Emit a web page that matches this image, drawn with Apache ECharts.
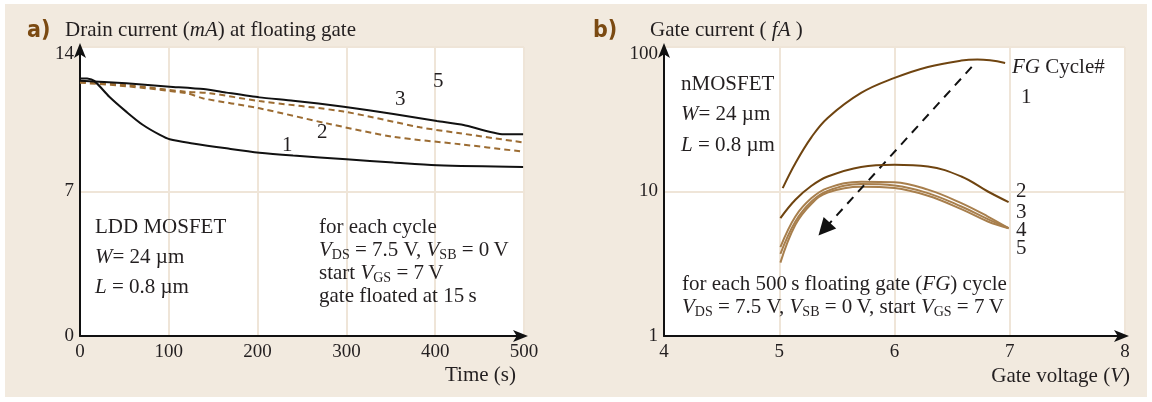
<!DOCTYPE html>
<html>
<head>
<meta charset="utf-8">
<script src="https://cdn.jsdelivr.net/npm/echarts@6/dist/echarts.min.js"></script>
<style>
html,body{margin:0;padding:0;background:#fff;}
#bg{position:absolute;left:5px;top:4px;width:1142px;height:393px;background:#f2eadf;}
#c{position:absolute;left:0;top:0;width:1152px;height:402px;}
</style>
</head>
<body>
<div id="bg"></div>
<div id="c"></div>
<script>
// ---- Panel a) drain current (mA) vs time (s) ----
const leftXTicks = [0, 100, 200, 300, 400, 500];
const leftYTicks = [0, 7, 14];
const cyc1T = [0, 8, 16, 33, 52, 71, 90, 101, 127, 165, 202, 240, 300, 353, 402, 499];
const cyc1I = [12.48, 12.47, 12.36, 11.59, 10.87, 10.22, 9.74, 9.53, 9.33, 9.09, 8.88, 8.74, 8.56, 8.40, 8.27, 8.19];
const cyc2T = [0, 52, 120, 139, 202, 278, 353, 428, 499];
const cyc2I = [12.27, 12.10, 11.76, 11.51, 11.03, 10.30, 9.65, 9.29, 8.93];
const cyc3T = [0, 52, 120, 146, 202, 297, 383, 428, 499];
const cyc3I = [12.32, 12.16, 11.83, 11.76, 11.38, 10.87, 10.11, 9.82, 9.38];
const cyc5T = [0, 52, 101, 139, 165, 202, 240, 297, 353, 402, 432, 477, 499];
const cyc5I = [12.37, 12.24, 12.08, 11.96, 11.79, 11.56, 11.40, 11.11, 10.75, 10.41, 10.22, 9.77, 9.77];

// ---- Panel b) gate current (fA) vs gate voltage (V) ----
const gate1V = [5.03, 5.14, 5.28, 5.42, 5.71, 6.0, 6.29, 6.58, 6.72, 6.96];
const gate1I = [10.56, 15.7, 23.8, 32.3, 48.1, 61.1, 72.8, 80.5, 81.8, 77.6];
const gateV = [5.01, 5.14, 5.28, 5.42, 5.71, 6.0, 6.29, 6.58, 6.81, 6.99];
const gate2I = [6.54, 8.76, 10.95, 12.7, 14.8, 15.3, 14.9, 12.7, 10.0, 8.44];
const gate3I = [4.12, 6.71, 9.0, 10.56, 11.7, 11.6, 10.3, 8.31, 6.71, 5.57];
const gate4I = [3.70, 6.2, 8.53, 10.1, 11.25, 11.0, 9.75, 7.87, 6.43, 5.57];
const gate5I = [3.22, 5.88, 8.22, 9.84, 10.8, 10.56, 9.34, 7.55, 6.2, 5.57];
const arrowFrom = [6.67, 72.8];
const arrowTo = [5.39, 5.49];

const zip = (a, b) => a.map((v, i) => [v, b[i]]);
const SERIF = '"Liberation Serif", "Times New Roman", serif';
const INK = '#231f20';
const GRIDC = '#efe5d8';
const DARKB = '#6f4410';
const LIGHTB = '#a87f4d';
const DASHB = '#9c6c32';
const FS = 21;

const rich = {
  i: {fontFamily: SERIF, fontSize: FS, fontStyle: 'italic', fill: INK},
  s: {fontFamily: SERIF, fontSize: 14, fill: INK, padding: [10, 0, 0, 0]}
};
function txt(x, y, text, align) {
  return {type: 'text', x: x, y: y, z: 50, silent: true,
    style: {text: text, fontFamily: SERIF, fontSize: FS, fill: INK,
      align: align || 'left', verticalAlign: 'middle', rich: rich}};
}
function tag(x, y, text) {
  return {type: 'text', x: x, y: y, z: 50, silent: true,
    style: {text: text, fontFamily: '"Liberation Sans Narrow", "DejaVu Sans Condensed", "Liberation Sans", sans-serif',
      fontWeight: 'bold', fontSize: 23, fill: '#7b4a12', align: 'left', verticalAlign: 'middle'}};
}

const axisLineStyle = {show: true, symbol: ['none', 'arrow'], symbolSize: [9, 15], symbolOffset: [0, 4],
  lineStyle: {color: '#111', width: 2}};
const lblStyle = {fontFamily: SERIF, fontSize: 19, color: INK};
const topRich = {t: {fontFamily: SERIF, fontSize: 19, color: INK, padding: [14, 0, 0, 0]}};

const chart = echarts.init(document.getElementById('c'), null, {renderer: 'canvas'});
chart.setOption({
  animation: false,
  backgroundColor: 'transparent',
  grid: [
    {left: 80, top: 47, width: 444, height: 289, show: true, backgroundColor: '#fff', borderWidth: 0},
    {left: 664, top: 47, width: 461, height: 289, show: true, backgroundColor: '#fff', borderWidth: 0}
  ],
  xAxis: [
    {gridIndex: 0, type: 'value', min: leftXTicks[0], max: leftXTicks[leftXTicks.length - 1], interval: 100,
      axisLine: axisLineStyle, axisTick: {show: false},
      axisLabel: Object.assign({margin: 7, showMaxLabel: true, showMinLabel: true}, lblStyle),
      splitLine: {show: true, lineStyle: {color: GRIDC, width: 2}}},
    {gridIndex: 1, type: 'value', min: 4, max: 8, interval: 1,
      axisLine: axisLineStyle, axisTick: {show: false},
      axisLabel: Object.assign({margin: 7}, lblStyle),
      splitLine: {show: true, lineStyle: {color: GRIDC, width: 2}}}
  ],
  yAxis: [
    {gridIndex: 0, type: 'value', min: leftYTicks[0], max: leftYTicks[leftYTicks.length - 1], interval: 7,
      axisLine: axisLineStyle, axisTick: {show: false},
      axisLabel: Object.assign({margin: 6, rich: topRich,
        formatter: v => v === 14 ? '{t|14}' : String(v)}, lblStyle),
      splitLine: {show: true, lineStyle: {color: GRIDC, width: 2}}},
    {gridIndex: 1, type: 'log', logBase: 10, min: 1, max: 100,
      axisLine: axisLineStyle, axisTick: {show: false},
      axisLabel: Object.assign({margin: 6, rich: topRich,
        formatter: v => v >= 99 ? '{t|100}' : String(Math.round(v))}, lblStyle),
      splitLine: {show: true, lineStyle: {color: GRIDC, width: 2}},
      minorSplitLine: {show: false}}
  ],
  series: [
    {type: 'line', xAxisIndex: 0, yAxisIndex: 0, data: zip(cyc1T, cyc1I), smooth: 0.3, showSymbol: false,
      lineStyle: {color: '#111', width: 2}, z: 5},
    {type: 'line', xAxisIndex: 0, yAxisIndex: 0, data: zip(cyc2T, cyc2I), smooth: 0.3, showSymbol: false,
      lineStyle: {color: DASHB, width: 2, type: [6, 4]}, z: 4},
    {type: 'line', xAxisIndex: 0, yAxisIndex: 0, data: zip(cyc3T, cyc3I), smooth: 0.3, showSymbol: false,
      lineStyle: {color: DASHB, width: 2, type: [6, 4]}, z: 4},
    {type: 'line', xAxisIndex: 0, yAxisIndex: 0, data: zip(cyc5T, cyc5I), smooth: 0.2, showSymbol: false,
      lineStyle: {color: '#111', width: 2}, z: 5},
    {type: 'line', xAxisIndex: 1, yAxisIndex: 1, data: zip(gate1V, gate1I), smooth: 0.4, showSymbol: false,
      lineStyle: {color: DARKB, width: 2}, z: 5},
    {type: 'line', xAxisIndex: 1, yAxisIndex: 1, data: zip(gateV, gate2I), smooth: 0.4, showSymbol: false,
      lineStyle: {color: DARKB, width: 2}, z: 5},
    {type: 'line', xAxisIndex: 1, yAxisIndex: 1, data: zip(gateV, gate3I), smooth: 0.4, showSymbol: false,
      lineStyle: {color: LIGHTB, width: 2}, z: 4},
    {type: 'line', xAxisIndex: 1, yAxisIndex: 1, data: zip(gateV, gate4I), smooth: 0.4, showSymbol: false,
      lineStyle: {color: LIGHTB, width: 2}, z: 4},
    {type: 'line', xAxisIndex: 1, yAxisIndex: 1, data: zip(gateV, gate5I), smooth: 0.4, showSymbol: false,
      lineStyle: {color: LIGHTB, width: 2}, z: 4,
      markLine: {silent: true, symbol: ['none', 'triangle'], symbolSize: 17, label: {show: false},
        lineStyle: {color: '#111', width: 2, type: [9, 7]},
        itemStyle: {color: '#111'},
        emphasis: {disabled: true},
        data: [[{coord: arrowFrom}, {coord: arrowTo}]]}}
  ],
  graphic: [
    tag(27, 31, 'a)'),
    txt(65, 30, 'Drain current ({i|mA}) at floating gate'),
    txt(95, 227, 'LDD MOSFET'),
    txt(95, 257, '{i|W}= 24 µm'),
    txt(95, 287, '{i|L} = 0.8 µm'),
    txt(319, 227, 'for each cycle'),
    txt(319, 250, '{i|V}{s|DS} = 7.5 V, {i|V}{s|SB} = 0\u2009V'),
    txt(319, 273, 'start {i|V}{s|GS} = 7\u2009V'),
    txt(319, 296, 'gate floated at 15\u2009s'),
    txt(516, 375, 'Time (s)', 'right'),
    txt(282, 145, '1'),
    txt(317, 132, '2'),
    txt(395, 99, '3'),
    txt(433, 81, '5'),
    tag(593, 31, 'b)'),
    txt(650, 30, 'Gate current ( {i|fA} )'),
    txt(681, 84, 'nMOSFET'),
    txt(681, 114, '{i|W}= 24 µm'),
    txt(681, 145, '{i|L} = 0.8 µm'),
    txt(1012, 67, '{i|FG} Cycle#'),
    txt(1021, 97, '1'),
    txt(1016, 191, '2'),
    txt(1016, 212, '3'),
    txt(1016, 230, '4'),
    txt(1016, 248, '5'),
    txt(682, 284, 'for each 500\u2009s floating gate ({i|FG}) cycle'),
    txt(682, 307, '{i|V}{s|DS} = 7.5 V, {i|V}{s|SB} = 0\u2009V, start {i|V}{s|GS} = 7\u2009V'),
    txt(1130, 376, 'Gate voltage ({i|V})', 'right')
  ]
});
</script>
</body>
</html>
